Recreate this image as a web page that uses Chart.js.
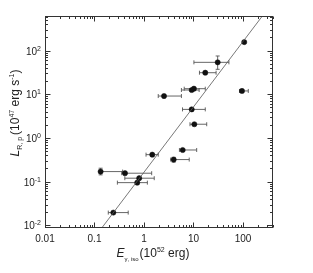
<!DOCTYPE html>
<html>
<head>
<meta charset="utf-8">
<script src="https://cdn.jsdelivr.net/npm/chart.js@4.4.1/dist/chart.umd.min.js"></script>
<style>
  html, body { margin: 0; padding: 0; background: #fff; }
  #wrap { width: 313px; height: 273px; }
</style>
</head>
<body>
<div id="wrap"><canvas id="grbChart" width="313" height="273"></canvas></div>
<script>
// burst values (E in 1e52 erg, L in 1e47 erg/s)
const grbE   = [106, 30.8, 17.3, 10.2, 9.2, 2.54, 95.5, 9.2, 10.4, 6.05, 3.98, 1.47, 0.133, 0.413, 0.80, 0.73, 0.24]
const grbL   = [156, 53.7, 31.1, 13.4, 12.5, 9.1, 11.9, 4.5, 2.06, 0.53, 0.32, 0.415, 0.170, 0.156, 0.12, 0.095, 0.0196]
const grbELo = [106, 10.2, 13.2, 6.5, 5.7, 1.94, 85, 6.0, 8.5, 5.2, 3.46, 1.10, 0.125, 0.355, 0.41, 0.29, 0.19]
const grbEHi = [106, 52, 28.6, 17.3, 13, 5.7, 128, 17.3, 18.5, 11.6, 8.2, 1.94, 0.37, 1.43, 1.61, 1.17, 0.48]
const grbLLo = [156, 37.2, 31.1, 13.4, 12.5, 8.3, 11.9, 4.5, 2.06, 0.53, 0.28, 0.415, 0.143, 0.156, 0.12, 0.095, 0.0196]
const grbLHi = [156, 75, 31.1, 13.4, 12.5, 9.9, 11.9, 4.5, 2.06, 0.53, 0.36, 0.415, 0.203, 0.156, 0.12, 0.095, 0.0196]

// best-fit line end points
const fitE = [0.14, 250]
const fitL = [0.0087, 630]

// axis ticks
const xMajor = [0.01, 0.1, 1, 10, 100]
const xLabels = ["0.01", "0.1", "1", "10", "100"]
const yMajor = [0.01, 0.1, 1, 10, 100]
const yExp = ["-2", "-1", "0", "1", "2"]

const X_MIN = 0.01, X_MAX = 404
const Y_MIN = 0.0087, Y_MAX = 617

function minorTicks(lo, hi){
    const out = []
    for (let k = -4; k <= 4; k++){
        for (let d = 2; d <= 9; d++){
            const v = d * Math.pow(10, k)
            if (v > lo && v < hi) out.push(v)
        }
    }
    return out
}

function drawRuns(ctx, runs, x, y){
    let cx = x
    runs.forEach(r => {
        ctx.font = r.font
        ctx.fillText(r.text, cx, y + (r.dy || 0))
        cx += ctx.measureText(r.text).width + (r.gap || 0)
    })
}

function runsWidth(ctx, runs){
    let w = 0
    runs.forEach(r => {
        ctx.font = r.font
        w += ctx.measureText(r.text).width + (r.gap || 0)
    })
    return w
}

const SANS = '"Liberation Sans", Arial, sans-serif'
const NARROW = '"Liberation Sans Narrow", "Liberation Sans", sans-serif'

// error bars under the points
const errorBars = {
    id: "errorBars",
    beforeDatasetsDraw(chart){
        const { ctx, scales: { x, y } } = chart
        ctx.save()
        ctx.strokeStyle = "#555"
        ctx.lineWidth = 0.9
        ctx.beginPath()
        for (let i = 0; i < grbE.length; i++){
            const px = x.getPixelForValue(grbE[i])
            const py = y.getPixelForValue(grbL[i])
            if (grbELo[i] !== grbEHi[i]){
                const x0 = x.getPixelForValue(grbELo[i])
                const x1 = x.getPixelForValue(grbEHi[i])
                ctx.moveTo(x0, py); ctx.lineTo(x1, py)
                ctx.moveTo(x0, py - 2); ctx.lineTo(x0, py + 2)
                ctx.moveTo(x1, py - 2); ctx.lineTo(x1, py + 2)
            }
            if (grbLLo[i] !== grbLHi[i]){
                const y0 = y.getPixelForValue(grbLLo[i])
                const y1 = y.getPixelForValue(grbLHi[i])
                ctx.moveTo(px, y0); ctx.lineTo(px, y1)
                ctx.moveTo(px - 2, y0); ctx.lineTo(px + 2, y0)
                ctx.moveTo(px - 2, y1); ctx.lineTo(px + 2, y1)
            }
        }
        ctx.stroke()
        ctx.restore()
    }
}

// box frame, inward ticks, y labels and axis titles
const frameAndText = {
    id: "frameAndText",
    afterDraw(chart){
        const { ctx, chartArea: a, scales: { x, y } } = chart
        const L = Math.round(a.left) + 0.5, R = Math.round(a.right) - 0.5
        const T = Math.round(a.top) + 0.5, B = Math.round(a.bottom) - 0.5
        ctx.save()
        ctx.strokeStyle = "#333"
        ctx.lineWidth = 1
        ctx.strokeRect(L, T, R - L, B - T)

        ctx.beginPath()
        const xt = (v, len) => {
            const px = Math.round(x.getPixelForValue(v)) + 0.5
            ctx.moveTo(px, B); ctx.lineTo(px, B - len)
            ctx.moveTo(px, T); ctx.lineTo(px, T + len)
        }
        const yt = (v, len) => {
            const py = Math.round(y.getPixelForValue(v)) + 0.5
            ctx.moveTo(L, py); ctx.lineTo(L + len, py)
            ctx.moveTo(R, py); ctx.lineTo(R - len, py)
        }
        xMajor.forEach(v => xt(v, 5))
        minorTicks(X_MIN, X_MAX).forEach(v => xt(v, 2.5))
        yMajor.forEach(v => yt(v, 5))
        minorTicks(Y_MIN, Y_MAX).forEach(v => yt(v, 2.5))
        ctx.stroke()

        ctx.fillStyle = "#222"
        ctx.textBaseline = "alphabetic"

        // y tick labels 10^n
        yMajor.forEach((v, i) => {
            const py = y.getPixelForValue(v)
            const runs = [
                { text: "10", font: "10px " + NARROW },
                { text: yExp[i], font: "7px " + NARROW, dy: -4 }
            ]
            const w = runsWidth(ctx, runs)
            drawRuns(ctx, runs, 41 - w, py + 4)
        })

        // x title
        const xRuns = [
            { text: "E", font: "italic 12px " + SANS },
            { text: "\u03b3, iso", font: "6px " + SANS, dy: 4, gap: 1 },
            { text: "(10", font: "12px " + SANS },
            { text: "52", font: "7px " + SANS, dy: -5 },
            { text: " erg)", font: "12px " + SANS }
        ]
        drawRuns(ctx, xRuns, 153 - runsWidth(ctx, xRuns) / 2, 257)

        // y title, rotated
        const yRuns = [
            { text: "L", font: "italic 12px " + SANS },
            { text: "R, p", font: "7px " + SANS, dy: 3, gap: 2 },
            { text: "(10", font: "12px " + SANS },
            { text: "47", font: "7px " + SANS, dy: -5 },
            { text: " erg s", font: "12px " + SANS },
            { text: "-1", font: "7px " + SANS, dy: -5 },
            { text: ")", font: "12px " + SANS }
        ]
        ctx.translate(19, 113)
        ctx.rotate(-Math.PI / 2)
        drawRuns(ctx, yRuns, -runsWidth(ctx, yRuns) / 2, 0)
        ctx.restore()
    }
}

const grbChart = new Chart(document.getElementById("grbChart"), {
    type: "scatter",
    data: {
        datasets: [
            {
                label: "fit",
                data: fitE.map((e, i) => ({ x: e, y: fitL[i] })),
                showLine: true,
                borderColor: "#555",
                borderWidth: 0.8,
                pointRadius: 0,
                fill: false
            },
            {
                label: "GRBs",
                data: grbE.map((e, i) => ({ x: e, y: grbL[i] })),
                pointRadius: 2.6,
                pointBackgroundColor: "#111",
                pointBorderColor: "#111",
                pointBorderWidth: 0.5
            }
        ]
    },
    options: {
        responsive: false,
        animation: false,
        events: [],
        layout: { padding: { top: 16, right: 40, left: 0, bottom: 0 } },
        plugins: { legend: { display: false }, tooltip: { enabled: false } },
        scales: {
            x: {
                type: "logarithmic",
                min: X_MIN,
                max: X_MAX,
                grid: { display: false, drawTicks: false },
                border: { display: false },
                afterBuildTicks: s => { s.ticks = xMajor.map(v => ({ value: v })) },
                afterFit: s => { s.height = 45 },
                ticks: {
                    autoSkip: false,
                    maxRotation: 0,
                    padding: 5,
                    color: "#222",
                    font: { family: NARROW, size: 10 },
                    callback: v => xLabels[xMajor.indexOf(v)] ?? ""
                }
            },
            y: {
                type: "logarithmic",
                min: Y_MIN,
                max: Y_MAX,
                grid: { display: false, drawTicks: false },
                border: { display: false },
                afterFit: s => { s.width = 45 },
                ticks: { display: false }
            }
        }
    },
    plugins: [errorBars, frameAndText]
})
</script>
</body>
</html>
